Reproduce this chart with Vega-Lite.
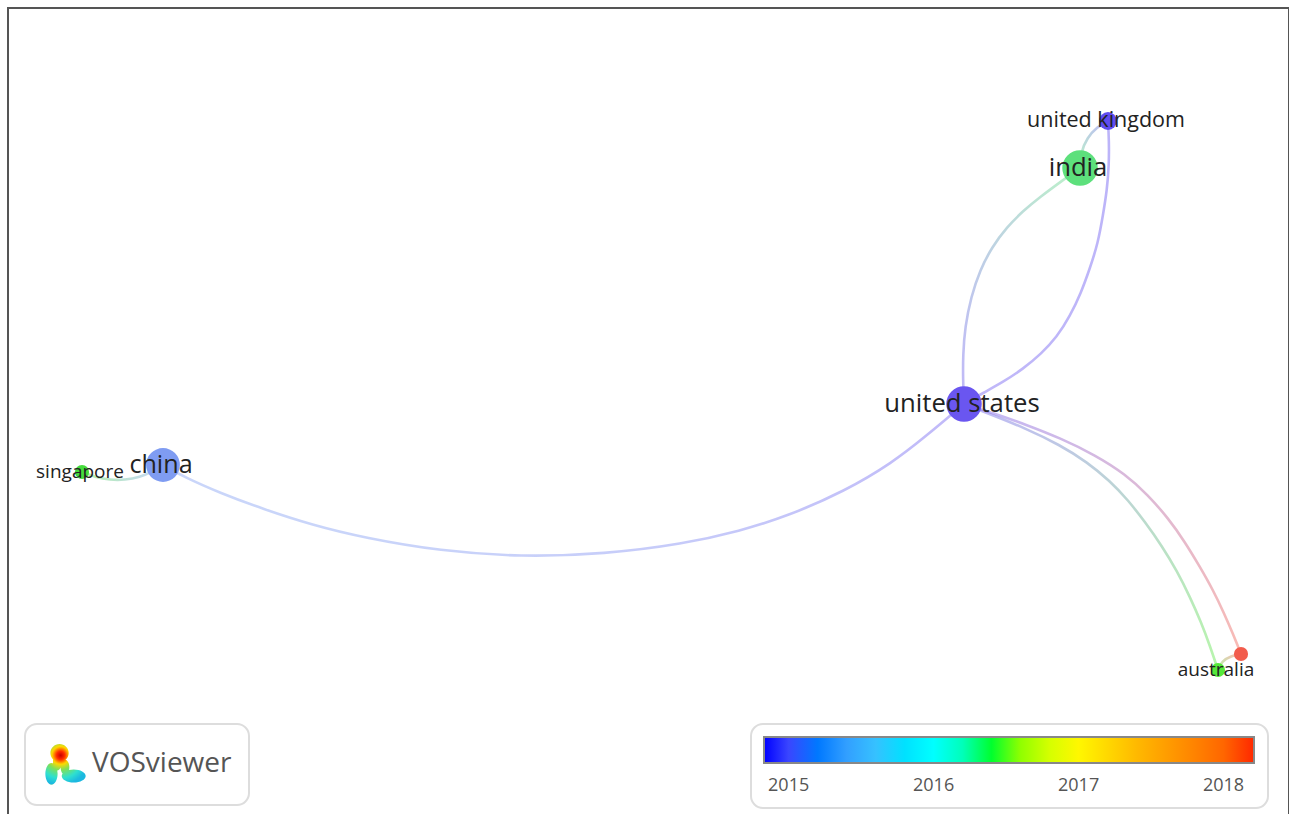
{
  "$schema": "https://vega.github.io/schema/vega-lite/v6.json",
  "width": 1281,
  "height": 812,
  "autosize": {"type": "none"},
  "padding": {"left": 8, "top": 8, "right": 0, "bottom": 0},
  "background": "white",
  "config": {
    "view": {"stroke": "#555555", "strokeWidth": 2},
    "legend": {
      "strokeWidth": 2,
      "symbolBaseFillColor": {"gradient": "radial", "x1": 0.38, "y1": 0.28, "r1": 0, "x2": 0.38, "y2": 0.28, "r2": 0.72, "stops": [{"offset": 0, "color": "#c80000"}, {"offset": 0.14, "color": "#ff2a00"}, {"offset": 0.3, "color": "#ffd800"}, {"offset": 0.5, "color": "#7de05a"}, {"offset": 0.78, "color": "#2ee0d0"}, {"offset": 1, "color": "#1cb8e0"}]}
    }
  },
  "datasets": {
    "nodes": [
      {"country": "united states", "x": 964, "y": 404, "weight": 10, "year": 2015.2, "tool": "VOSviewer", "labelled": true},
      {"country": "india", "x": 1080, "y": 168, "weight": 10, "year": 2016.4, "tool": "VOSviewer", "labelled": true},
      {"country": "china", "x": 163, "y": 465, "weight": 9, "year": 2015.5, "tool": "VOSviewer", "labelled": true},
      {"country": "united kingdom", "x": 1108, "y": 121, "weight": 2, "year": 2015.1, "tool": "VOSviewer", "labelled": true},
      {"country": "singapore", "x": 82, "y": 472, "weight": 1, "year": 2016.5, "tool": "VOSviewer", "labelled": true},
      {"country": "australia", "x": 1218, "y": 670, "weight": 1, "year": 2016.6, "tool": "VOSviewer", "labelled": true},
      {"country": "new zealand", "x": 1241, "y": 654, "weight": 1, "year": 2018.1, "tool": "VOSviewer", "labelled": false}
    ],
    "edges": [
      {"e": "us-india", "i": 0, "x": 964, "y": 404}, {"e": "us-india", "i": 1, "x": 963, "y": 380}, {"e": "us-india", "i": 2, "x": 963, "y": 355}, {"e": "us-india", "i": 3, "x": 965, "y": 327}, {"e": "us-india", "i": 4, "x": 971, "y": 297}, {"e": "us-india", "i": 5, "x": 980, "y": 270}, {"e": "us-india", "i": 6, "x": 992, "y": 247}, {"e": "us-india", "i": 7, "x": 1007, "y": 227}, {"e": "us-india", "i": 8, "x": 1023, "y": 211}, {"e": "us-india", "i": 9, "x": 1040, "y": 197}, {"e": "us-india", "i": 10, "x": 1063, "y": 180}, {"e": "us-india", "i": 11, "x": 1080, "y": 168},
      {"e": "us-uk", "i": 0, "x": 964, "y": 404}, {"e": "us-uk", "i": 1, "x": 983, "y": 393}, {"e": "us-uk", "i": 2, "x": 1003, "y": 382}, {"e": "us-uk", "i": 3, "x": 1023, "y": 369}, {"e": "us-uk", "i": 4, "x": 1041, "y": 354}, {"e": "us-uk", "i": 5, "x": 1057, "y": 337}, {"e": "us-uk", "i": 6, "x": 1070, "y": 316}, {"e": "us-uk", "i": 7, "x": 1081, "y": 293}, {"e": "us-uk", "i": 8, "x": 1090, "y": 268}, {"e": "us-uk", "i": 9, "x": 1098, "y": 243}, {"e": "us-uk", "i": 10, "x": 1103, "y": 215}, {"e": "us-uk", "i": 11, "x": 1107, "y": 190}, {"e": "us-uk", "i": 12, "x": 1109, "y": 165}, {"e": "us-uk", "i": 13, "x": 1109, "y": 140}, {"e": "us-uk", "i": 14, "x": 1108, "y": 121},
      {"e": "india-uk", "i": 0, "x": 1080, "y": 168}, {"e": "india-uk", "i": 1, "x": 1081, "y": 152}, {"e": "india-uk", "i": 2, "x": 1087, "y": 138}, {"e": "india-uk", "i": 3, "x": 1097, "y": 127}, {"e": "india-uk", "i": 4, "x": 1108, "y": 121},
      {"e": "us-china", "i": 0, "x": 964, "y": 404}, {"e": "us-china", "i": 1, "x": 925, "y": 437}, {"e": "us-china", "i": 2, "x": 892, "y": 463}, {"e": "us-china", "i": 3, "x": 845, "y": 491}, {"e": "us-china", "i": 4, "x": 788, "y": 516}, {"e": "us-china", "i": 5, "x": 740, "y": 531}, {"e": "us-china", "i": 6, "x": 683, "y": 544}, {"e": "us-china", "i": 7, "x": 605, "y": 554}, {"e": "us-china", "i": 8, "x": 521, "y": 557}, {"e": "us-china", "i": 9, "x": 440, "y": 551}, {"e": "us-china", "i": 10, "x": 365, "y": 538}, {"e": "us-china", "i": 11, "x": 312, "y": 525}, {"e": "us-china", "i": 12, "x": 263, "y": 509}, {"e": "us-china", "i": 13, "x": 220, "y": 493}, {"e": "us-china", "i": 14, "x": 184, "y": 477}, {"e": "us-china", "i": 15, "x": 163, "y": 465},
      {"e": "china-singapore", "i": 0, "x": 163, "y": 465}, {"e": "china-singapore", "i": 1, "x": 152, "y": 472}, {"e": "china-singapore", "i": 2, "x": 140, "y": 477}, {"e": "china-singapore", "i": 3, "x": 125, "y": 480}, {"e": "china-singapore", "i": 4, "x": 110, "y": 480}, {"e": "china-singapore", "i": 5, "x": 95, "y": 477}, {"e": "china-singapore", "i": 6, "x": 82, "y": 472},
      {"e": "us-australia", "i": 0, "x": 964, "y": 404}, {"e": "us-australia", "i": 1, "x": 987, "y": 413}, {"e": "us-australia", "i": 2, "x": 1025, "y": 428}, {"e": "us-australia", "i": 3, "x": 1060, "y": 445}, {"e": "us-australia", "i": 4, "x": 1087, "y": 462}, {"e": "us-australia", "i": 5, "x": 1110, "y": 481}, {"e": "us-australia", "i": 6, "x": 1128, "y": 500}, {"e": "us-australia", "i": 7, "x": 1145, "y": 522}, {"e": "us-australia", "i": 8, "x": 1162, "y": 546}, {"e": "us-australia", "i": 9, "x": 1177, "y": 571}, {"e": "us-australia", "i": 10, "x": 1190, "y": 597}, {"e": "us-australia", "i": 11, "x": 1201, "y": 622}, {"e": "us-australia", "i": 12, "x": 1210, "y": 646}, {"e": "us-australia", "i": 13, "x": 1218, "y": 670},
      {"e": "us-nz", "i": 0, "x": 964, "y": 404}, {"e": "us-nz", "i": 1, "x": 993, "y": 413}, {"e": "us-nz", "i": 2, "x": 1027, "y": 425}, {"e": "us-nz", "i": 3, "x": 1060, "y": 438}, {"e": "us-nz", "i": 4, "x": 1095, "y": 455}, {"e": "us-nz", "i": 5, "x": 1125, "y": 474}, {"e": "us-nz", "i": 6, "x": 1148, "y": 495}, {"e": "us-nz", "i": 7, "x": 1168, "y": 518}, {"e": "us-nz", "i": 8, "x": 1185, "y": 542}, {"e": "us-nz", "i": 9, "x": 1200, "y": 567}, {"e": "us-nz", "i": 10, "x": 1213, "y": 590}, {"e": "us-nz", "i": 11, "x": 1224, "y": 613}, {"e": "us-nz", "i": 12, "x": 1233, "y": 634}, {"e": "us-nz", "i": 13, "x": 1241, "y": 654},
      {"e": "australia-nz", "i": 0, "x": 1218, "y": 670}, {"e": "australia-nz", "i": 1, "x": 1222, "y": 661}, {"e": "australia-nz", "i": 2, "x": 1231, "y": 656}, {"e": "australia-nz", "i": 3, "x": 1241, "y": 654}
    ]
  },
  "resolve": {"scale": {"size": "independent"}},
  "layer": [
    {
      "data": {"name": "edges"},
      "mark": {"type": "line", "interpolate": "basis", "strokeWidth": 2.6, "strokeOpacity": 0.42, "strokeCap": "round"},
      "encoding": {
        "x": {"field": "x", "type": "quantitative", "scale": {"domain": [8, 1289], "nice": false, "zero": false}, "axis": null},
        "y": {"field": "y", "type": "quantitative", "scale": {"domain": [8, 820], "nice": false, "zero": false, "reverse": true}, "axis": null},
        "detail": {"field": "e", "type": "nominal"},
        "order": {"field": "i", "type": "quantitative"},
        "stroke": {
          "condition": [
            {"test": "datum.e === 'us-india'", "value": {"gradient": "linear", "x1": 0, "y1": 1, "x2": 1, "y2": 0, "stops": [{"offset": 0, "color": "#6a56f0"}, {"offset": 1, "color": "#5de07c"}]}},
            {"test": "datum.e === 'us-uk'", "value": {"gradient": "linear", "x1": 0, "y1": 1, "x2": 1, "y2": 0, "stops": [{"offset": 0, "color": "#6a56f0"}, {"offset": 1, "color": "#5f4cf0"}]}},
            {"test": "datum.e === 'india-uk'", "value": {"gradient": "linear", "x1": 0, "y1": 1, "x2": 1, "y2": 0, "stops": [{"offset": 0, "color": "#5de07c"}, {"offset": 1, "color": "#5f4cf0"}]}},
            {"test": "datum.e === 'us-china'", "value": {"gradient": "linear", "x1": 1, "y1": 0, "x2": 0, "y2": 0.4, "stops": [{"offset": 0, "color": "#6a56f0"}, {"offset": 1, "color": "#7f9cf2"}]}},
            {"test": "datum.e === 'china-singapore'", "value": {"gradient": "linear", "x1": 1, "y1": 0, "x2": 0, "y2": 0, "stops": [{"offset": 0, "color": "#7f9cf2"}, {"offset": 1, "color": "#46dc3c"}]}},
            {"test": "datum.e === 'us-australia'", "value": {"gradient": "linear", "x1": 0, "y1": 0, "x2": 1, "y2": 1, "stops": [{"offset": 0, "color": "#6a56f0"}, {"offset": 1, "color": "#55e83a"}]}},
            {"test": "datum.e === 'us-nz'", "value": {"gradient": "linear", "x1": 0, "y1": 0, "x2": 1, "y2": 1, "stops": [{"offset": 0, "color": "#6a56f0"}, {"offset": 1, "color": "#f25c4c"}]}},
            {"test": "datum.e === 'australia-nz'", "value": {"gradient": "linear", "x1": 0, "y1": 1, "x2": 1, "y2": 0, "stops": [{"offset": 0, "color": "#55e83a"}, {"offset": 1, "color": "#f25c4c"}]}}
          ],
          "value": "#c8c0f8"
        }
      }
    },
    {
      "data": {"name": "nodes"},
      "mark": {"type": "point", "filled": true, "opacity": 1, "strokeWidth": 0},
      "encoding": {
        "x": {"field": "x", "type": "quantitative"},
        "y": {"field": "y", "type": "quantitative"},
        "size": {"field": "weight", "type": "quantitative", "scale": {"domain": [1, 10], "range": [201, 1257], "zero": false}, "legend": null},
        "fill": {
          "field": "country", "type": "nominal",
          "scale": {
            "domain": ["united states", "india", "china", "united kingdom", "singapore", "australia", "new zealand"],
            "range": ["#6a56f0", "#5de07c", "#7f9cf2", "#5f4cf0", "#46dc3c", "#55e83a", "#f25c4c"]
          },
          "legend": null
        },
        "stroke": {
          "field": "year", "type": "quantitative",
          "scale": {
            "domain": [2014.83, 2015.0, 2015.5, 2016.0, 2016.42, 2016.95, 2017.5, 2018.0, 2018.21],
            "range": ["#0000ff", "#3a46ff", "#55b0ff", "#00ffff", "#00ff00", "#ffff00", "#ffaa00", "#ff6600", "#ff2600"]
          },
          "legend": {
            "orient": "none", "legendX": 743, "legendY": 716, "direction": "horizontal", "title": null,
            "values": [2015, 2016, 2017, 2018], "format": "d",
            "gradientLength": 490, "gradientThickness": 26, "gradientStrokeColor": "#888888", "gradientStrokeWidth": 2,
            "labelFontSize": 18, "labelFont": "Open Sans", "labelColor": "#555555", "labelOffset": 14, "labelOverlap": false,
            "padding": 13, "fillColor": "white", "strokeColor": "#dddddd", "cornerRadius": 12
          }
        },
        "shape": {
          "condition": {"test": "datum.country != null", "value": "circle"},
          "field": "tool", "type": "nominal",
          "scale": {"range": ["M-0.67,-0.5 A0.42,0.42 0 1,0 0.17,-0.5 A0.42,0.42 0 1,0 -0.67,-0.5 Z M-0.9,0.45 A0.28,0.5 0 1,0 -0.34,0.45 A0.28,0.5 0 1,0 -0.9,0.45 Z M-0.55,-0.1 A0.2,0.4 0 1,0 -0.15,-0.1 A0.2,0.4 0 1,0 -0.55,-0.1 Z M-0.15,0.55 A0.55,0.3 0 1,0 0.95,0.55 A0.55,0.3 0 1,0 -0.15,0.55 Z M-0.2,0.15 A0.2,0.35 0 1,0 0.2,0.15 A0.2,0.35 0 1,0 -0.2,0.15 Z"]},
          "legend": {
            "orient": "none", "legendX": 17, "legendY": 716, "title": null,
            "padding": 17, "fillColor": "white", "strokeColor": "#dddddd", "cornerRadius": 12,
            "symbolSize": 1900, "labelFontSize": 28, "labelFont": "Open Sans", "labelColor": "#555555", "labelOffset": 4
          }
        }
      }
    },
    {
      "data": {"name": "nodes"},
      "transform": [{"filter": "datum.labelled"}],
      "mark": {"type": "text", "font": "Open Sans", "color": "#222222", "align": "center", "baseline": "middle", "dx": -2},
      "encoding": {
        "x": {"field": "x", "type": "quantitative"},
        "y": {"field": "y", "type": "quantitative"},
        "text": {"field": "country", "type": "nominal"},
        "size": {"field": "weight", "type": "quantitative", "scale": {"domain": [1, 2, 10], "range": [19, 21.5, 25.7]}, "legend": null}
      }
    }
  ]
}
